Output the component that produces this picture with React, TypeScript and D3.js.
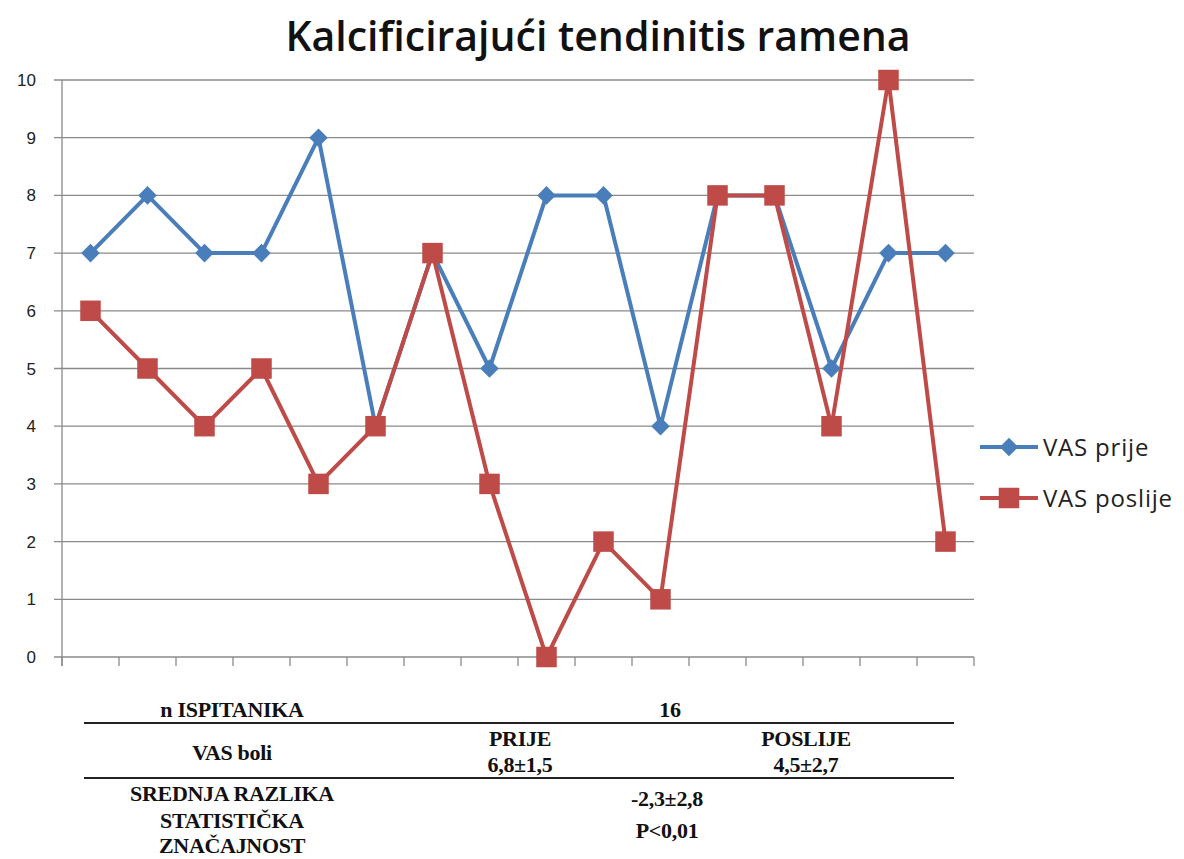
import React, { useEffect, useRef } from "react";
import * as d3 from "d3";

const title = "Kalcificirajući tendinitis ramena";
const patients = d3.range(1, 17).map(String);
const vasPrije = [7, 8, 7, 7, 9, 4, 7, 5, 8, 8, 4, 8, 8, 5, 7, 7];
const vasPoslije = [6, 5, 4, 5, 3, 4, 7, 3, 0, 2, 1, 8, 8, 4, 10, 2];
const yTicks = d3.range(0, 11);

const seriesNames = ["VAS prije", "VAS poslije"];
const seriesColors = ["#4A7EBB", "#BE4B48"];

const App = () => {
  const ref = useRef<SVGSVGElement | null>(null);

  useEffect(() => {
    if (!ref.current) return;
    const svg = d3.select(ref.current);
    svg.selectAll("*").remove();

    const x = d3.scaleBand<string>().domain(patients).range([62, 974]);
    const y = d3.scaleLinear().domain([0, 10]).range([657, 80]);
    const cx = (d: string) => (x(d) as number) + x.bandwidth() / 2;

    svg
      .append("text")
      .attr("x", 598)
      .attr("y", 51)
      .attr("text-anchor", "middle")
      .style("font-family", "'Open Sans', sans-serif")
      .style("font-size", "41px")
      .style("font-weight", "600")
      .style("fill", "#111")
      .text(title);

    // grid
    const g = svg.append("g");
    g.selectAll("line.grid")
      .data(yTicks)
      .join("line")
      .attr("x1", 54)
      .attr("x2", 974)
      .attr("y1", (d) => y(d))
      .attr("y2", (d) => y(d))
      .attr("stroke", "#8a8a8a")
      .attr("stroke-width", 1.3);

    g.selectAll("text.ytick")
      .data(yTicks)
      .join("text")
      .attr("x", 36)
      .attr("y", (d) => y(d) + 6)
      .attr("text-anchor", "end")
      .style("font-family", "'Liberation Sans', Arial, sans-serif")
      .style("font-size", "17px")
      .style("fill", "#222")
      .text((d) => d);

    g.append("line")
      .attr("x1", 62)
      .attr("x2", 62)
      .attr("y1", y(10))
      .attr("y2", 666)
      .attr("stroke", "#8a8a8a")
      .attr("stroke-width", 1.3);

    const bounds = patients.map((d) => x(d) as number).concat([974]);
    g.selectAll("line.xtick")
      .data(bounds)
      .join("line")
      .attr("x1", (d) => d)
      .attr("x2", (d) => d)
      .attr("y1", y(0))
      .attr("y2", 666)
      .attr("stroke", "#8a8a8a")
      .attr("stroke-width", 1.3);

    const line = d3
      .line<number>()
      .x((_, i) => cx(patients[i]))
      .y((d) => y(d));

    [vasPrije, vasPoslije].forEach((vals, s) => {
      svg
        .append("path")
        .datum(vals)
        .attr("d", line)
        .attr("fill", "none")
        .attr("stroke", seriesColors[s])
        .attr("stroke-width", 4)
        .attr("stroke-linejoin", "round");
    });

    const diamond = d3.symbol().type(d3.symbolDiamond2).size(220);
    const square = d3.symbol().type(d3.symbolSquare).size(420);

    svg
      .append("g")
      .selectAll("path")
      .data(vasPrije)
      .join("path")
      .attr("transform", (d, i) => `translate(${cx(patients[i])},${y(d)})`)
      .attr("d", diamond)
      .attr("fill", seriesColors[0]);

    svg
      .append("g")
      .selectAll("path")
      .data(vasPoslije)
      .join("path")
      .attr("transform", (d, i) => `translate(${cx(patients[i])},${y(d)})`)
      .attr("d", square)
      .attr("fill", seriesColors[1]);

    // legend
    const leg = svg.append("g");
    seriesNames.forEach((name, s) => {
      const ly = 447 + s * 51;
      leg.append("line")
        .attr("x1", 980)
        .attr("x2", 1038)
        .attr("y1", ly)
        .attr("y2", ly)
        .attr("stroke", seriesColors[s])
        .attr("stroke-width", 4);
      leg.append("path")
        .attr("transform", `translate(1009,${ly})`)
        .attr("d", s === 0 ? diamond : square)
        .attr("fill", seriesColors[s]);
      leg.append("text")
        .attr("x", 1043)
        .attr("y", ly + 9)
        .style("font-family", "'Open Sans', sans-serif")
        .style("font-size", "24px")
        .style("letter-spacing", "0.8px")
        .style("fill", "#222")
        .text(name);
    });

    // stats table
    const t = svg.append("g")
      .style("font-family", "'Liberation Serif', 'Times New Roman', serif")
      .style("font-size", "22px")
      .style("font-weight", "bold")
      .style("letter-spacing", "-0.3px")
      .style("fill", "#111");

    const rows: [string, number, number][] = [
      ["n ISPITANIKA", 232, 717],
      ["16", 670, 717],
      ["VAS boli", 232, 760],
      ["PRIJE", 520, 746],
      ["6,8±1,5", 520, 772],
      ["POSLIJE", 806, 746],
      ["4,5±2,7", 806, 772],
      ["SREDNJA RAZLIKA", 232, 801],
      ["-2,3±2,8", 667, 806],
      ["STATISTIČKA", 232, 828],
      ["ZNAČAJNOST", 232, 853],
      ["P<0,01", 667, 838],
    ];
    t.selectAll("text")
      .data(rows)
      .join("text")
      .attr("x", (d) => d[1])
      .attr("y", (d) => d[2])
      .attr("text-anchor", "middle")
      .text((d) => d[0]);

    [723, 778].forEach((ly) => {
      svg.append("line")
        .attr("x1", 84)
        .attr("x2", 954)
        .attr("y1", ly)
        .attr("y2", ly)
        .attr("stroke", "#222")
        .attr("stroke-width", 2);
    });
  }, []);

  return (
    <div style={{ position: "absolute", left: 0, top: 0 }}>
      <svg ref={ref} width={1184} height={859} style={{ display: "block", background: "#fff" }} />
    </div>
  );
};

export default App;
